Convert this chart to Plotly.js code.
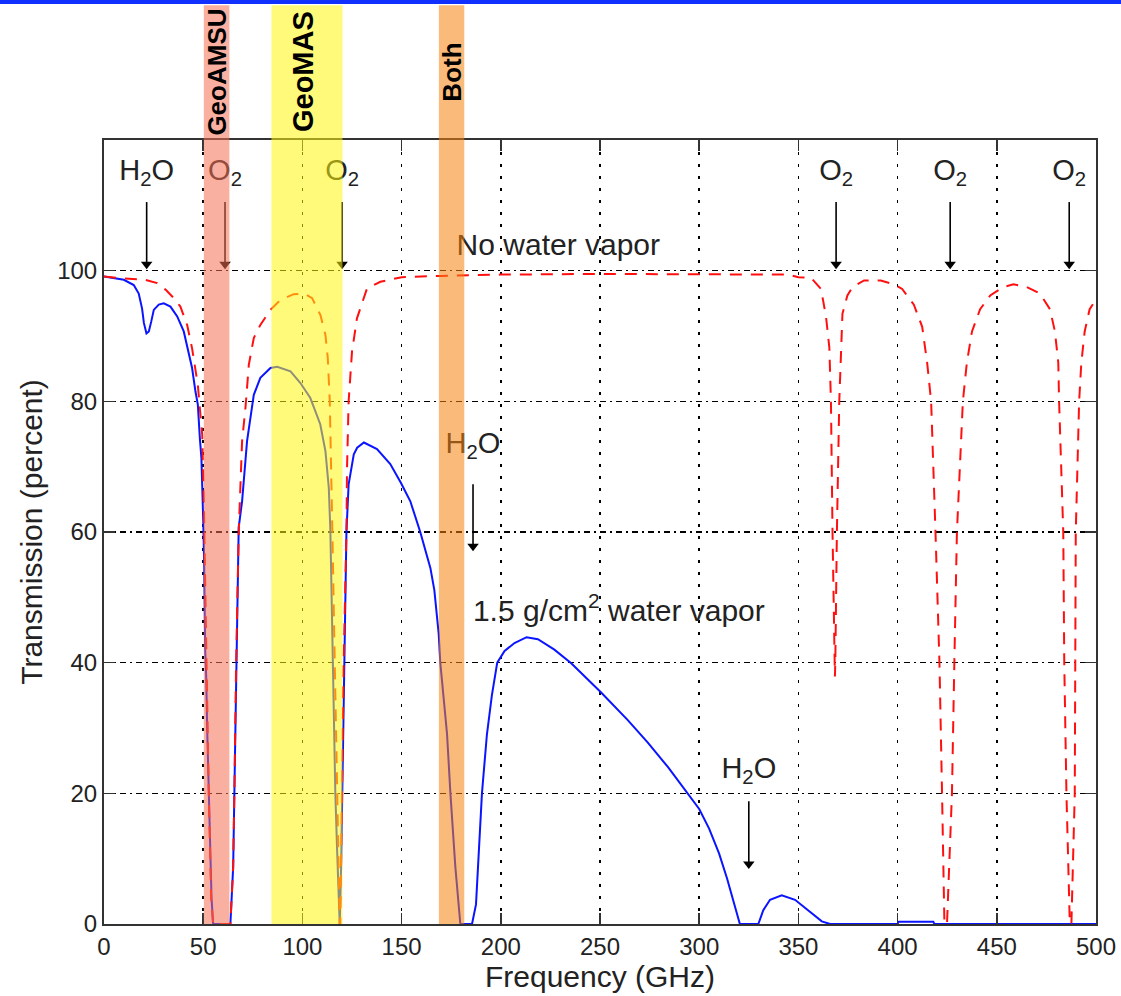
<!DOCTYPE html>
<html>
<head>
<meta charset="utf-8">
<script src="https://cdn.plot.ly/plotly-3.0.1.min.js"></script>
<style>
  html, body { margin: 0; padding: 0; background: #ffffff; }
  #chart { width: 1121px; height: 996px; }
</style>
</head>
<body>
<div id="chart"></div>
<script>
// Atmospheric transmission spectrum, 0-500 GHz
// Transmission with 1.5 g/cm^2 of water vapor (solid blue)
const freqWet = [0, 4, 10, 15, 17.5, 19.2, 20.1, 21.4, 22.6, 23.8, 25.1, 27.6, 30.1, 33.5, 36.9, 40.2, 42.7, 44.4, 46.1, 47.3, 48.3, 49.1, 50, 50.5, 51, 51.5, 52, 52.8, 53.5, 54.2, 55,
  63.7, 65.1, 65.7, 66.2, 66.6, 67.1, 67.9, 69.6, 72.1, 75.5, 78.8, 83.9, 87.3, 94, 99, 104, 109, 111.6, 113.3, 114.1, 115, 115.8, 116.6, 117.5, 118.3, 118.8,
  119.5, 120.3, 121.2, 122.2, 123.3, 125.9, 127.6, 131, 137.6, 144.3, 149.7, 154.4, 159.4, 164.5, 166.5, 168.7, 169.5, 172.9, 174.6, 177.1, 179.6,
  185.5, 187.5, 188.5, 190.5, 193, 195.5, 198.2, 201.9, 206.9, 213, 218.7, 227, 235.5, 240.6, 250.7, 264, 274, 284.3, 294.4, 300, 305, 310, 314, 317, 319.5, 320.5,
  329.8, 332.3, 335.7, 341.6, 348.3, 355, 361.8, 366, 400, 400.5, 418, 418.5, 500];
const transWet = [99.1, 98.9, 98.6, 97.8, 96.5, 94.2, 92, 90.4, 90.7, 92.2, 94, 94.8, 95, 94.5, 93, 90.7, 87.6, 85.1, 81.5, 79.5, 74.4, 71.3, 62, 55, 42, 38, 30, 20, 12, 4, 0,
  0, 8.7, 20, 30, 40, 52, 60.7, 64.7, 73.9, 81, 83.6, 85.1, 85.3, 84.6, 82.8, 80.5, 76.5, 72.4, 66.8, 60.2, 45, 31.1, 20, 11.3, 2.1, 0,
  8.7, 25.5, 44.4, 60, 67.3, 71.9, 72.9, 73.7, 72.7, 70.4, 67.5, 64.7, 60, 54.5, 51.1, 44.4, 40, 29.1, 20, 8.7, 0,
  0, 3, 8.7, 20, 29, 35, 40, 41.8, 43, 43.9, 43.6, 42, 39.9, 38.4, 35.4, 31.2, 27.8, 24, 20, 17.6, 14.6, 10.8, 7, 3.6, 0.8, 0,
  0, 2.1, 3.7, 4.4, 3.7, 2.1, 0.4, 0, 0, 0.35, 0.35, 0, 0];

// Transmission with no water vapor (dashed red)
const freqDry = [0, 10, 20.9, 26.8, 31, 35.2, 38.5, 41.9, 44.4, 46.1, 47.3, 48.3, 49.5, 50.3, 51.5, 52.8, 54, 55,
  63.7, 65.1, 65.7, 66.6, 67.9, 69.6, 71.3, 73, 75.5, 78.8, 83.9, 88.9, 95.6, 100.7, 104.9, 109.1, 111.6, 112.8, 113.8, 114.4, 114.9, 115.1, 116.3, 117.5, 118.8,
  119.1, 120, 120.8, 122.2, 122.5, 123.3, 125, 127.5, 132.6, 139.3, 150, 170, 200, 250, 300, 345, 350, 356.4, 361.4, 363.9, 365.6, 366.4, 367.2, 368.1, 368.4,
  368.6, 369.4, 370.6, 372.2, 374.7, 377.3, 383.1, 391.5, 398.2, 402.3, 408.2, 412.4, 414.9, 416.9, 419.1, 421.1, 422.4, 423.6,
  424.9, 427.4, 428.6, 429.9, 432.9, 434.9, 437.5, 441.6, 446.7, 453.3, 458.4, 465.1, 471.7, 476.8, 479.3, 481, 481.4, 483.5, 484, 485.1, 486.8,
  487.6, 489.3, 489.5, 489.8, 491.5, 492.6, 494.3, 496.8, 500];
const transDry = [99.1, 98.8, 98.6, 98.1, 97.1, 95.8, 94.5, 91.7, 88.1, 85.1, 82.5, 79, 74.9, 64.7, 40, 20, 4, 0,
  0, 8.7, 20, 40, 60, 73.9, 79, 85.6, 89.7, 91.7, 94, 95.5, 96.4, 96.5, 95.8, 93.2, 90.2, 86.6, 80, 72.4, 64.7, 60, 40, 20, 0,
  0, 20, 40, 60, 69.8, 80, 87.6, 92.7, 97.3, 98.3, 99, 99.2, 99.4, 99.5, 99.5, 99.4, 99, 98.9, 97.2, 93, 88.2, 80, 60, 40, 37.9,
  40, 60, 80, 93.4, 96.2, 97.5, 98.5, 98.5, 97.9, 97.2, 94.8, 91.4, 85.9, 80, 60, 40, 20, 0,
  0, 20, 40, 60, 80, 85.9, 90.7, 94.1, 96.2, 97.5, 97.9, 97.5, 96.5, 94.1, 90.7, 85.9, 80, 60, 40, 20, 0,
  0, 20, 40, 60, 80, 85.9, 90.7, 94.1, 95.6];

// Instrument channel bands (GHz)
const bandNames = ['GeoAMSU', 'GeoMAS', 'Both'];
const bandStart = [50.3, 84.4, 168.8];
const bandEnd = [63.2, 120.2, 181.6];
const bandFill = ['rgb(246,111,82)', 'rgb(255,246,13)', 'rgb(246,131,13)'];
const bandFontSize = [26, 29, 26];
const bandLabelShift = [0, -2, 0];

// Absorption lines marked with arrows
const lineFreqs = [21.5, 61, 120, 369, 426.5, 486.5, 186, 325];
const lineLabels = ['H<sub>2</sub>O', 'O<sub>2</sub>', 'O<sub>2</sub>', 'O<sub>2</sub>', 'O<sub>2</sub>', 'O<sub>2</sub>', 'H<sub>2</sub>O', 'H<sub>2</sub>O'];

// Curve captions
const captionText = ['No water vapor', '1.5 g/cm<sup>2</sup> water vapor'];

const xTicks = [0, 50, 100, 150, 200, 250, 300, 350, 400, 450, 500];
const yTicks = [0, 20, 40, 60, 80, 100];

// ---- label placement (layout, in axis units) ----
const labelLevel = [115.0, 115.0, 115.0, 115.0, 115.0, 115.0, 73.2, 23.4];
const arrowTop = [110.5, 110.5, 110.5, 110.5, 110.5, 110.5, 67.3, 18.8];
const arrowTip = [100, 100, 100, 100, 100, 100, 56.8, 8.2];
const captionX = [229, 259.5];
const captionY = [103.6, 47.6];

const FONT = 'Liberation Sans, Arial, Helvetica, sans-serif';
const INK = '#222222';

const shaftX = [], shaftY = [];
lineFreqs.forEach((f, i) => {
  shaftX.push(f, f, null);
  shaftY.push(arrowTop[i], arrowTip[i] + 1.2, null);
});

const traces = [
  {
    x: freqWet, y: transWet, type: 'scatter', mode: 'lines',
    line: { color: '#0a14ff', width: 2 }, hoverinfo: 'x+y'
  },
  {
    x: freqDry, y: transDry, type: 'scatter', mode: 'lines',
    line: { color: '#ff1010', width: 2, dash: '12px,9px' }, hoverinfo: 'x+y'
  },
  {
    x: shaftX, y: shaftY, type: 'scatter', mode: 'lines',
    line: { color: '#000000', width: 1.6 }, hoverinfo: 'skip'
  },
  {
    x: lineFreqs, y: arrowTip.map(v => v + 1.0), type: 'scatter', mode: 'markers',
    marker: { symbol: 'triangle-down', size: 10, color: '#000000' }, hoverinfo: 'skip'
  },
  {
    x: lineFreqs, y: labelLevel, type: 'scatter', mode: 'text',
    text: lineLabels, textposition: 'middle center',
    textfont: { family: FONT, size: 29, color: INK }, hoverinfo: 'skip', cliponaxis: false
  },
  {
    x: captionX, y: captionY, type: 'scatter', mode: 'text',
    text: captionText, textposition: 'middle center',
    textfont: { family: FONT, size: 30, color: INK }, hoverinfo: 'skip', cliponaxis: false
  }
];

// Channel bands are drawn over the curves, reaching up into the top margin
const shapes = bandNames.map((n, i) => ({
  type: 'rect', xref: 'x', yref: 'paper',
  x0: bandStart[i], x1: bandEnd[i], y0: 0, y1: 1.172,
  fillcolor: bandFill[i], opacity: 0.55, line: { width: 0 }, layer: 'above'
}));
// Blue rule along the top edge of the page
shapes.push({
  type: 'rect', xref: 'paper', yref: 'paper',
  x0: -0.2, x1: 1.2, y0: 1.1735, y1: 1.25,
  fillcolor: '#1030ff', line: { width: 0 }, layer: 'above'
});

const annotations = bandNames.map((n, i) => ({
  text: n, xref: 'x', yref: 'paper',
  x: (bandStart[i] + bandEnd[i]) / 2 + bandLabelShift[i], y: 1.0867,
  textangle: -90, showarrow: false,
  font: { family: FONT, size: bandFontSize[i], color: '#000000', weight: 'bold' },
  xanchor: 'center', yanchor: 'middle'
}));

const axisCommon = {
  showline: true, linecolor: '#333333', linewidth: 2, mirror: 'ticks',
  ticks: 'inside', ticklen: 11, tickwidth: 1.5, tickcolor: '#333333',
  showgrid: true, gridcolor: '#000000', gridwidth: 1.6,
  zeroline: false, tickfont: { family: FONT, size: 24, color: INK },
  automargin: false, fixedrange: true
};

const layout = {
  width: 1121, height: 996,
  margin: { l: 104, r: 25, t: 140, b: 72 },
  paper_bgcolor: '#ffffff', plot_bgcolor: '#ffffff',
  showlegend: false,
  xaxis: Object.assign({}, axisCommon, {
    range: [0, 500], tickmode: 'array', tickvals: xTicks, griddash: '3px,9px',
    title: { text: 'Frequency (GHz)', font: { family: FONT, size: 30, color: INK }, standoff: 4 }
  }),
  yaxis: Object.assign({}, axisCommon, {
    range: [0, 120], tickmode: 'array', tickvals: yTicks, griddash: '6px,4px,2px,4px',
    title: { text: 'Transmission (percent)', font: { family: FONT, size: 30, color: INK }, standoff: 6 }
  }),
  shapes: shapes,
  annotations: annotations
};

Plotly.newPlot('chart', traces, layout, { displayModeBar: false, staticPlot: true });
</script>
</body>
</html>
